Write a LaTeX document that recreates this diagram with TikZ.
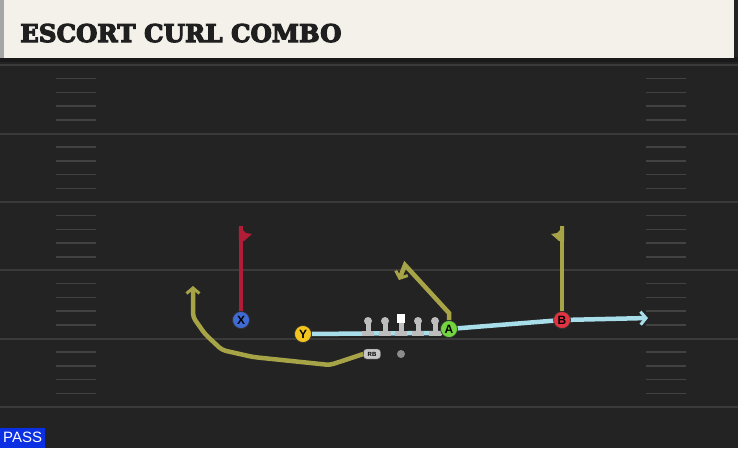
\documentclass[tikz,border=0pt]{standalone}
\usepackage{fontspec}
\newfontfamily\titlefont{DejaVu Serif Bold}
\newfontfamily\tagfont{Liberation Sans}
\usetikzlibrary{arrows.meta,calc}

\definecolor{field}{HTML}{232323}
\definecolor{yardline}{HTML}{3A3A3A}
\definecolor{hashline}{HTML}{424242}
\definecolor{banner}{HTML}{F3F1EA}
\definecolor{routeolive}{HTML}{A6A447}
\definecolor{routered}{HTML}{B11C36}
\definecolor{blockblue}{HTML}{A8DDEA}
\definecolor{passblue}{HTML}{0B2FE3}
\definecolor{xblue}{HTML}{3F6BD4}
\definecolor{yyellow}{HTML}{F3C51E}
\definecolor{agreen}{HTML}{72D43F}
\definecolor{bred}{HTML}{E13440}
\definecolor{oline}{HTML}{BDBDBD}

\pgfdeclarelayer{field}
\pgfdeclarelayer{routes}
\pgfsetlayers{field,routes,main}

\tikzset{
  player/.style={circle, draw=black!80, line width=0.7pt, minimum size=17pt, inner sep=0pt,
    font=\tagfont\bfseries\fontsize{12}{12}\selectfont},
  route/.style={routeolive, line width=4.5pt},
  redroute/.style={routered, line width=4.5pt},
  block/.style={blockblue, line width=4.5pt},
  tip/.style={-{Straight Barb[length=5.5pt,width=13pt,line width=3pt]}},
}

\begin{document}
\begin{tikzpicture}[x=1pt,y=-1pt]
    \useasboundingbox (0,0) rectangle (738,448);
    % Draw the field
    \begin{pgfonlayer}{field}
    \fill[field] (0,0) rectangle (738,448);
    \foreach \y in {65,133.5,202,270,338.5,407}
        \draw[yardline, line width=2pt] (0,\y) -- (738,\y);
    \foreach \y in {65,133.5,202,270,338.5}
        \foreach \k in {1,2,3,4} {
            \draw[hashline, line width=1.5pt] (56,\y+\k*13.7) -- (96,\y+\k*13.7);
            \draw[hashline, line width=1.5pt] (646,\y+\k*13.7) -- (686,\y+\k*13.7);
        }

    % Draw the title banner
    \fill[black!90] (0,57) rectangle (738,62);
    \fill[banner] (4,0) rectangle (734,58);
    \fill[black!35] (0,0) rectangle (4,58);
    \end{pgfonlayer}
    \node[anchor=base west, inner sep=0pt, font=\titlefont\fontsize{24.5}{24.5}\selectfont, text=black!88]
        (title) at (20,42) {\special{pdf:literal direct 2 Tr 1.1 w}ESCORT CURL COMBO\special{pdf:literal direct 0 Tr}};

    % Players
    \node[player, fill=xblue] (X) at (241,320) {X};
    \node[player, fill=yyellow] (Y) at (303,334) {Y};
    \node[player, fill=agreen] (A) at (449,329) {A};
    \node[player, fill=bred] (B) at (562,320) {B};
    \node[fill=black!22, draw=black!70, rounded corners=3pt, minimum width=17pt, minimum height=10pt,
        inner sep=0pt, font=\tagfont\bfseries\fontsize{6}{6}\selectfont] (RB) at (372,354) {RB};
    \node[circle, fill=black!45, minimum size=8pt, inner sep=0pt] (ball) at (401,354) {};

    % Coordinates of the routes
    \coordinate (ylos) at (441,333);
    \coordinate (btip) at (648,318);
    \coordinate (xtop) at (241,226);
    \coordinate (btop) at (562,226);
    \coordinate (acut) at (449,313);
    \coordinate (apeak) at (405,265);
    \coordinate (aend) at (399,280);
    \coordinate (r1) at (330,365);
    \coordinate (r2) at (253,357);
    \coordinate (r3) at (222,350);
    \coordinate (r4) at (205,334);
    \coordinate (r5) at (193,317);
    \coordinate (rend) at (193,286);

    % Draw the routes
    \begin{pgfonlayer}{routes}
    \draw[block] (Y) -- (ylos) -- (A.center);
    \draw[block, tip] (A.center) -- (B.center) -- (btip);
    \draw[redroute] (X) -- (xtop);
    \fill[routered] ($(xtop)+(-2.2,0)$) -- ($(xtop)+(5,7)$) -- ($(xtop)+(11,8)$) -- ($(xtop)+(3,15)$) -- ($(xtop)+(-2.2,15)$) -- cycle;
    \draw[route] (B) -- (btop);
    \fill[routeolive] ($(btop)+(2.2,0)$) -- ($(btop)+(-5,7)$) -- ($(btop)+(-11,8)$) -- ($(btop)+(-3,15)$) -- ($(btop)+(2.2,15)$) -- cycle;
    \draw[route, tip] (A) -- (acut) -- (apeak) -- (aend);
    \draw[route, tip, rounded corners=4pt] (RB.west) -- (r1) -- (r2) -- (r3) -- (r4) -- (r5) -- (rend);

    % Draw the offensive line
    \foreach \x in {368,385,418,435} {
        \fill[oline] (\x,321) circle (4);
        \fill[oline] (\x-2.5,324) rectangle (\x+2.5,332);
        \fill[oline] (\x-6,331) rectangle (\x+6,336);
    }
    \fill[white] (397,314) rectangle (405,323);
    \fill[oline] (398.5,323) rectangle (403.5,331);
    \fill[oline] (395,331) rectangle (407,336);
    \end{pgfonlayer}

    % Play type
    \node[anchor=south west, fill=passblue, text=white, minimum width=45pt, minimum height=20pt, inner sep=0pt,
        font=\tagfont\fontsize{15}{15}\selectfont] (play) at (0,448) {PASS};
\end{tikzpicture}
\end{document}
